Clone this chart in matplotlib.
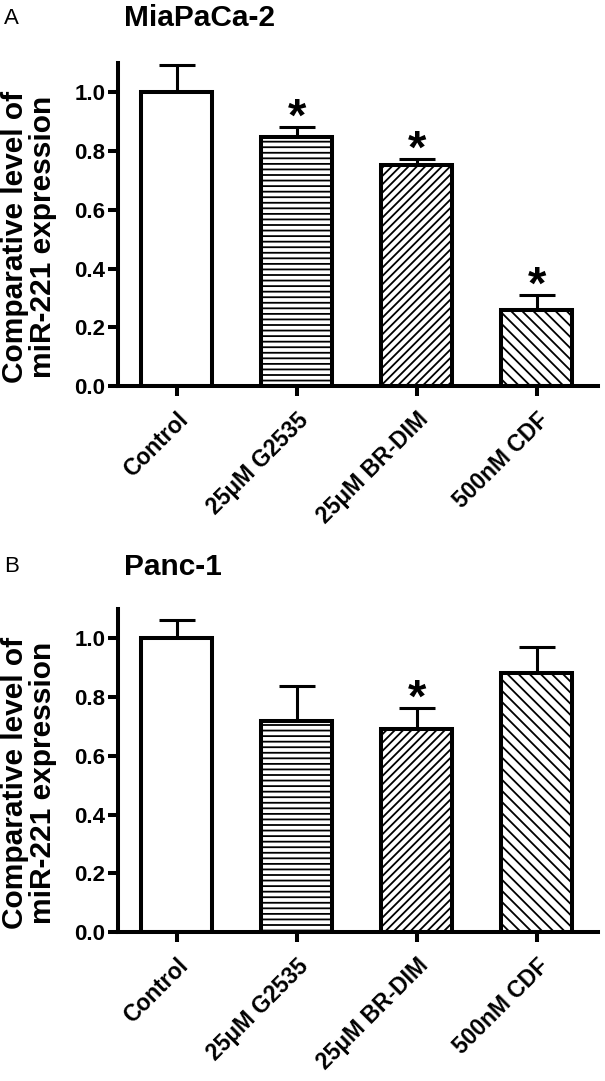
import numpy as np
import matplotlib.pyplot as plt

plt.rcParams["font.family"] = ["Liberation Sans", "DejaVu Sans"]
plt.rcParams["hatch.linewidth"] = 1.3

groups = ["Control", "25\u03bcM G2535", "25\u03bcM BR-DIM", "500nM CDF"]
hatches = ["", "---", "////", "\\\\\\"]

mia_mean = [1.0, 0.848, 0.752, 0.259]
mia_err = [0.093, 0.034, 0.021, 0.051]
mia_sig = [False, True, True, True]

panc_mean = [1.0, 0.717, 0.692, 0.881]
panc_err = [0.063, 0.12, 0.072, 0.091]
panc_sig = [False, False, True, False]

lw = 2.9
elw = 2.2

fig = plt.figure(figsize=(6.05, 10.81), dpi=100)
W, H = 605, 1081


def panel(rect, mean, err, sig, title, letter, letter_y):
    left, top, right, bottom = rect
    ax = fig.add_axes([left / W, 1 - bottom / H, (right - left) / W, (bottom - top) / H])
    x = np.arange(len(groups))
    ax.errorbar(x, mean, yerr=[np.zeros(len(err)), err], fmt="none", ecolor="k",
                elinewidth=elw, capsize=13, capthick=elw, zorder=1)
    ax.bar(x, mean, width=0.59, color="white", edgecolor="k", linewidth=lw,
           hatch=hatches, zorder=2)
    for i in range(len(x)):
        if sig[i]:
            ax.annotate("*", xy=(x[i], mean[i] + err[i]), xytext=(0, -3),
                        textcoords="offset points", ha="center", va="baseline",
                        fontsize=34, fontweight="bold")
    ax.set_xlim(-0.49, 3.51)
    ax.set_ylim(0, 1.1)
    ax.set_yticks([0, 0.2, 0.4, 0.6, 0.8, 1.0])
    ax.set_yticklabels(["0.0", "0.2", "0.4", "0.6", "0.8", "1.0"], fontsize=16,
                       fontweight="bold")
    ax.set_xticks(x)
    ax.set_xticklabels(groups, rotation=45, ha="right", rotation_mode="anchor",
                       fontsize=16.5, fontweight="bold")
    ax.spines["top"].set_visible(False)
    ax.spines["right"].set_visible(False)
    ax.spines["left"].set_linewidth(lw)
    ax.spines["bottom"].set_linewidth(lw)
    ax.tick_params(axis="y", width=lw, length=7, direction="out", pad=2)
    ax.tick_params(axis="x", width=lw, length=7, direction="out", pad=9)
    mid = (top + bottom) / 2 + 12
    fig.text(29 / W, 1 - mid / H, "Comparative level of\nmiR-221 expression",
             rotation=90, fontsize=21.5, fontweight="bold", ha="center",
             va="center", linespacing=1.0)
    fig.text(124 / W, 1 - letter_y / H, title, fontsize=21.5, fontweight="bold",
             va="center", ha="left")
    fig.text(4 / W, 1 - letter_y / H, letter, fontsize=16, va="center", ha="left")
    return ax


panel((118, 63, 598, 386), mia_mean, mia_err, mia_sig, "MiaPaCa-2", "A", 18)
panel((118, 609, 598, 932), panc_mean, panc_err, panc_sig, "Panc-1", "B", 567)

fig.savefig("out.png", dpi=100)
